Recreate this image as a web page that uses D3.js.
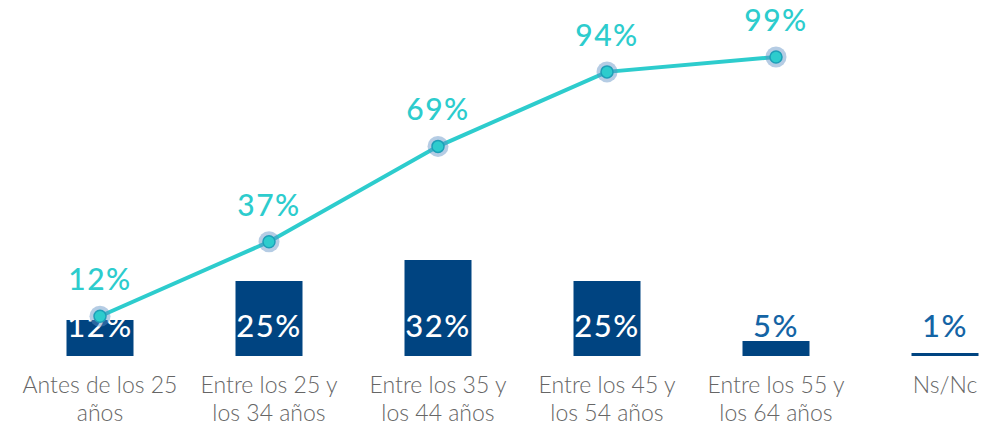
<!DOCTYPE html>
<html><head><meta charset="utf-8">
<script src="https://cdn.jsdelivr.net/npm/d3@7"></script>
<style>html,body{margin:0;padding:0;background:#fff;}svg{display:block;}</style>
</head><body>
<svg id="chart" width="990" height="425"></svg>
<script>
const categories = ["Antes de los 25 años","Entre los 25 y los 34 años","Entre los 35 y los 44 años","Entre los 45 y los 54 años","Entre los 55 y los 64 años","Ns/Nc"];
const categoryLines = [["Antes de los 25","años"],["Entre los 25 y","los 34 años"],["Entre los 35 y","los 44 años"],["Entre los 45 y","los 54 años"],["Entre los 55 y","los 64 años"],["Ns/Nc"]];
const barValues = [12,25,32,25,5,1];
const lineValues = [12,37,69,94,99];

const svg = d3.select("#chart");
const x = d3.scalePoint().domain(categories).range([100,945]);
const yBar = d3.scaleLinear().domain([0,100]).range([356,56]);
const yLine = d3.scaleLinear().domain([0,100]).range([352,54]);
const barW = 67;
const navy = "#004481", teal = "#2DCCCD", blue = "#1464A5";
const font = "Lato, 'Open Sans', sans-serif";

// bars
svg.append("g").selectAll("rect").data(barValues).join("rect")
  .attr("x",(d,i)=>x(categories[i])-barW/2)
  .attr("y",d=>yBar(d))
  .attr("width",barW)
  .attr("height",d=>yBar(0)-yBar(d))
  .attr("fill",navy);

// line
const line = d3.line().x((d,i)=>x(categories[i])).y(d=>yLine(d));
svg.append("path").datum(lineValues).attr("d",line)
  .attr("fill","none").attr("stroke",teal).attr("stroke-width",4);

// bar labels
svg.append("g").selectAll("text").data(barValues).join("text")
  .attr("x",(d,i)=>x(categories[i]))
  .attr("y",yBar(0)-19)
  .attr("text-anchor","middle")
  .attr("font-family",font).attr("font-weight",500).attr("font-size",31)
  .attr("letter-spacing",1.5)
  .attr("fill",d=> (yBar(0)-yBar(d))>25 ? "#fff" : blue)
  .text(d=>d+"%");

// markers
const mk = svg.append("g").selectAll("g").data(lineValues).join("g")
  .attr("transform",(d,i)=>`translate(${x(categories[i])},${yLine(d)})`);
mk.append("circle").attr("r",10.5).attr("fill","#5B8DC4").attr("fill-opacity",0.45);
mk.append("circle").attr("r",6).attr("fill",teal).attr("stroke","#1E9FB8").attr("stroke-width",1.5);

// line labels
svg.append("g").selectAll("text").data(lineValues).join("text")
  .attr("x",(d,i)=>x(categories[i]))
  .attr("y",d=>yLine(d)-26)
  .attr("text-anchor","middle")
  .attr("font-family",font).attr("font-weight",500).attr("font-size",30)
  .attr("letter-spacing",1.5)
  .attr("fill",teal)
  .text(d=>d+"%");

// category labels
const cl = svg.append("g").selectAll("text").data(categoryLines).join("text")
  .attr("x",(d,i)=>x(categories[i]))
  .attr("y",393)
  .attr("text-anchor","middle")
  .attr("font-family",font).attr("font-weight",300).attr("font-size",23)
  .attr("fill","#666");
cl.selectAll("tspan").data(d=>d).join("tspan")
  .attr("x",function(){return this.parentNode.getAttribute("x");})
  .attr("dy",(d,j)=>j===0?0:28)
  .text(d=>d);
</script>
</body></html>
